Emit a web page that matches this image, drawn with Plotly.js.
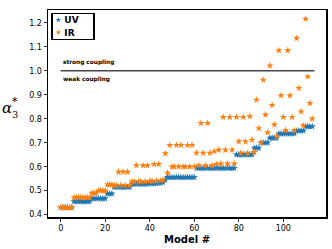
<!DOCTYPE html>
<html>
<head>
<meta charset="utf-8">
<script src="https://cdn.plot.ly/plotly-3.0.1.min.js"></script>
<style>html,body{margin:0;padding:0;background:#fff;}#chart{width:332px;height:249px;}</style>
</head>
<body>
<div id="chart"></div>
<script>
// UV values per model (sorted)
const uv = [
  0.43,0.43,0.43,0.43,0.43,0.43,
  0.455,0.455,0.455,0.455,0.455,0.455,0.455,0.455,
  0.467,0.467,0.467,0.467,0.467,0.467,0.467,
  0.487,0.487,0.487,
  0.515,0.515,0.515,0.515,0.515,0.515,0.515,0.515,
  0.528,0.528,0.528,0.528,0.528,0.528,0.528,0.528,0.53,0.53,0.53,0.53,0.532,0.532,0.535,
  0.545,
  0.556,0.556,0.556,0.556,0.556,0.556,0.556,0.556,0.556,0.556,0.556,0.556,0.556,
  0.594,0.594,0.594,0.594,0.594,0.594,0.594,0.594,0.594,0.594,0.594,0.594,0.594,0.594,0.594,0.594,0.594,0.594,
  0.65,0.65,0.65,0.65,0.65,0.65,0.65,0.65,
  0.678,0.678,0.678,
  0.70,0.70,0.70,0.70,
  0.72,0.72,0.72,0.72,
  0.738,0.738,0.738,0.738,0.738,0.738,0.738,0.738,
  0.75,0.75,0.75,0.75,
  0.768,0.768,0.768,0.768
];
// IR values per model
const ir = [
  0.43,0.43,0.43,0.43,0.43,0.43,
  0.472,0.472,0.472,0.472,0.472,0.472,0.472,0.472,
  0.49,0.49,0.49,0.50,0.50,0.50,0.50,
  0.525,0.525,0.525,
  0.522,0.522,0.578,0.522,0.578,0.522,0.578,0.522,
  0.538,0.538,0.605,0.538,0.538,0.605,0.538,0.605,0.54,0.54,0.61,0.54,0.61,0.542,0.545,
  0.655,
  0.574,0.69,0.60,0.60,0.69,0.60,0.69,0.60,0.60,0.69,0.60,0.69,0.60,
  0.657,0.605,0.782,0.657,0.605,0.782,0.657,0.605,0.664,0.61,0.67,0.6125,0.807,0.67,0.6125,0.807,0.67,0.6125,
  0.807,0.705,0.657,0.807,0.705,0.657,0.81,0.712,
  0.66,0.879,0.76,
  0.70,0.9625,0.817,0.743,
  1.022,0.857,0.775,0.726,
  1.085,0.897,0.807,0.752,1.085,0.897,0.807,0.752,
  1.136,0.928,0.83,0.772,
  1.217,0.976,0.865,0.80
];
const models = uv.map((_, i) => i);
const xTicks = [0, 20, 40, 60, 80, 100];
const yTicks = [0.4, 0.5, 0.6, 0.7, 0.8, 0.9, 1.0, 1.1, 1.2];
const couplingBoundary = 1.0;

const F = 'DejaVu Sans, sans-serif';
const traces = [
  {x: models, y: uv, mode: 'markers', type: 'scatter', name: '<b>UV</b>',
   marker: {symbol: 'star', size: 5.5, color: '#1f77b4', line: {width: 0}}},
  {x: models, y: ir, mode: 'markers', type: 'scatter', name: '<b>IR</b>',
   marker: {symbol: 'star', size: 5.5, color: '#ff7f0e', line: {width: 0}}}
];
const layout = {
  width: 332, height: 249,
  margin: {l: 48, r: 6, t: 10, b: 32},
  paper_bgcolor: '#fff', plot_bgcolor: '#fff',
  font: {family: F, size: 8, color: '#000'},
  showlegend: true,
  legend: {x: 0.012, y: 0.986, xanchor: 'left', yanchor: 'top',
    bordercolor: '#000', borderwidth: 1.5, bgcolor: '#fff',
    font: {family: F, size: 9, color: '#000'}, itemwidth: 30, tracegroupgap: 0},
  xaxis: {range: [-5.7, 119.2], tickvals: xTicks, ticktext: xTicks.map(String),
    showgrid: false, zeroline: false, showline: true, linecolor: '#000', linewidth: 1.5,
    mirror: true, ticks: 'outside', ticklen: 3, tickwidth: 0.8, tickcolor: '#000',
    tickfont: {family: F, size: 8},
    title: {text: '<b>Model #</b>', font: {family: F, size: 10}, standoff: 4}},
  yaxis: {range: [0.39, 1.254], tickvals: yTicks, ticktext: yTicks.map(v => v.toFixed(1)),
    showgrid: false, zeroline: false, showline: true, linecolor: '#000', linewidth: 1.5,
    mirror: true, ticks: 'outside', ticklen: 3, tickwidth: 0.8, tickcolor: '#000',
    tickfont: {family: F, size: 8}},
  shapes: [
    {type: 'line', xref: 'x', yref: 'y', x0: 0, x1: uv.length, y0: couplingBoundary, y1: couplingBoundary,
     line: {color: '#444', width: 1.5}}
  ],
  annotations: [
    {xref: 'x', yref: 'y', x: 0, y: couplingBoundary, xanchor: 'left', yanchor: 'bottom', yshift: 2.5,
     text: '<b>strong coupling</b>', showarrow: false, font: {family: F, size: 5.8, color: '#000'}},
    {xref: 'x', yref: 'y', x: 0, y: couplingBoundary, xanchor: 'left', yanchor: 'top', yshift: -3.5,
     text: '<b>weak coupling</b>', showarrow: false, font: {family: F, size: 5.8, color: '#000'}},
    {xref: 'paper', yref: 'paper', x: -0.146, y: 0.527, xanchor: 'center', yanchor: 'middle',
     text: '<i>α</i>', showarrow: false, font: {family: 'DejaVu Serif, serif', size: 15, color: '#000'}},
    {xref: 'paper', yref: 'paper', x: -0.119, y: 0.495, xanchor: 'center', yanchor: 'middle',
     text: '3', showarrow: false, font: {family: 'DejaVu Serif, serif', size: 10, color: '#000'}},
    {xref: 'paper', yref: 'paper', x: -0.119, y: 0.56, xanchor: 'center', yanchor: 'middle',
     text: '*', showarrow: false, font: {family: 'DejaVu Serif, serif', size: 11, color: '#000'}}
  ]
};
Plotly.newPlot('chart', traces, layout, {staticPlot: true, displayModeBar: false}).then(gd => {
  // compact the legend box to match the reference
  const legend = gd.querySelector('.legend');
  if (!legend) return;
  const bg = legend.querySelector('rect.bg');
  if (bg) { bg.setAttribute('width', 42); bg.setAttribute('height', 26); }
  legend.querySelectorAll('g.traces').forEach((t, i) => {
    t.setAttribute('transform', 'translate(0,' + (7 + i * 12.5) + ')');
    const pts = t.querySelector('g.legendpoints');
    if (pts) pts.setAttribute('transform', 'translate(-8,0) scale(0.75)');
    const txt = t.querySelector('text.legendtext');
    if (txt) txt.setAttribute('x', 13);
  });
});
</script>
</body>
</html>
